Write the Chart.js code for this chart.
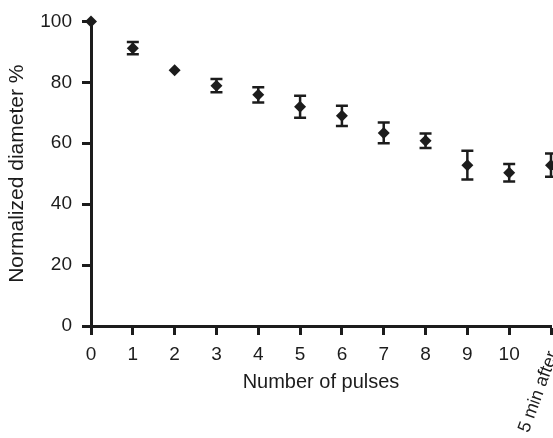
<!DOCTYPE html>
<html>
<head>
<meta charset="utf-8">
<script src="https://cdn.jsdelivr.net/npm/chart.js@4/dist/chart.umd.min.js"></script>
<style>
  html, body { margin: 0; padding: 0; background: #fff; }
  #wrap { width: 553px; height: 438px; }
</style>
</head>
<body>
<div id="wrap"><canvas id="diameterChart"></canvas></div>
<script>
// data
const pulseLabels = ['0', '1', '2', '3', '4', '5', '6', '7', '8', '9', '10', '5 min after'];
const pulseX = [0, 1, 2, 3, 4, 5, 6, 7, 8, 9, 10, 11];
const diameter = [100, 91.2, 84, 78.9, 75.9, 72, 69, 63.4, 60.8, 52.8, 50.3, 52.8];
const diameterErr = [0, 2, 0, 2.2, 2.5, 3.6, 3.3, 3.4, 2.4, 4.7, 2.9, 3.8];
const yTicks = [0, 20, 40, 60, 80, 100];

const ink = '#1c1c1c';
const fontName = "'Liberation Sans', Arial, sans-serif";

// error bars, drawn with the chart's own scales
const errorBarPlugin = {
  id: 'errorBars',
  beforeDatasetsDraw(chart) {
    const { ctx, scales: { x, y } } = chart;
    ctx.save();
    ctx.strokeStyle = ink;
    ctx.lineWidth = 2.5;
    pulseX.forEach((v, i) => {
      const e = diameterErr[i];
      if (!e) return;
      const px = x.getPixelForValue(v);
      const top = y.getPixelForValue(diameter[i] + e);
      const bot = y.getPixelForValue(diameter[i] - e);
      ctx.beginPath();
      ctx.moveTo(px, top); ctx.lineTo(px, bot);
      ctx.moveTo(px - 6, top); ctx.lineTo(px + 6, top);
      ctx.moveTo(px - 6, bot); ctx.lineTo(px + 6, bot);
      ctx.stroke();
    });
    ctx.restore();
  }
};

// the last category label is written at a slant
const slantLabelPlugin = {
  id: 'slantLabel',
  afterDraw(chart) {
    const { ctx, scales: { x } } = chart;
    const last = pulseX.length - 1;
    ctx.save();
    ctx.translate(x.getPixelForValue(pulseX[last]) + 2, x.top + 26);
    ctx.rotate(-70 * Math.PI / 180);
    ctx.font = '18px ' + fontName;
    ctx.fillStyle = ink;
    ctx.textAlign = 'right';
    ctx.textBaseline = 'middle';
    ctx.fillText(pulseLabels[last], 0, 0);
    ctx.restore();
  }
};

new Chart(document.getElementById('diameterChart'), {
  type: 'scatter',
  data: {
    datasets: [{
      data: pulseX.map((v, i) => ({ x: v, y: diameter[i] })),
      pointStyle: 'rectRot',
      pointRadius: 6,
      pointHoverRadius: 6,
      backgroundColor: ink,
      borderColor: ink,
      borderWidth: 0,
      clip: false
    }]
  },
  plugins: [errorBarPlugin, slantLabelPlugin],
  options: {
    responsive: true,
    maintainAspectRatio: false,
    animation: false,
    layout: { autoPadding: false, padding: { top: 20, right: 2, left: 0, bottom: 0 } },
    plugins: { legend: { display: false }, tooltip: { enabled: false } },
    scales: {
      x: {
        type: 'linear',
        min: 0,
        max: 11,
        afterFit: s => { s.height = 112; s.paddingRight = 0; s.paddingLeft = 0; },
        afterBuildTicks: s => { s.ticks = pulseX.map(v => ({ value: v })); },
        ticks: {
          padding: 8,
          color: ink,
          font: { family: fontName, size: 19 },
          callback: v => (v === pulseX[pulseX.length - 1] ? '' : pulseLabels[v]),
          maxRotation: 0,
          autoSkip: false
        },
        grid: { drawOnChartArea: false, drawTicks: true, tickLength: 9, tickWidth: 3, color: ink },
        border: { display: true, width: 3, color: ink },
        title: {
          display: true,
          text: 'Number of pulses',
          color: ink,
          font: { family: fontName, size: 20 },
          padding: { top: 0, bottom: 44 }
        }
      },
      y: {
        min: 0,
        max: 100,
        afterFit: s => { s.width = 91; },
        afterBuildTicks: s => { s.ticks = yTicks.map(v => ({ value: v })); },
        ticks: {
          padding: 10,
          color: ink,
          font: { family: fontName, size: 19 }
        },
        grid: { drawOnChartArea: false, drawTicks: true, tickLength: 9, tickWidth: 3, color: ink },
        border: { display: true, width: 3, color: ink },
        title: {
          display: true,
          text: 'Normalized diameter %',
          color: ink,
          font: { family: fontName, size: 21 },
          padding: { top: 5, bottom: 0 }
        }
      }
    }
  }
});
</script>
</body>
</html>
